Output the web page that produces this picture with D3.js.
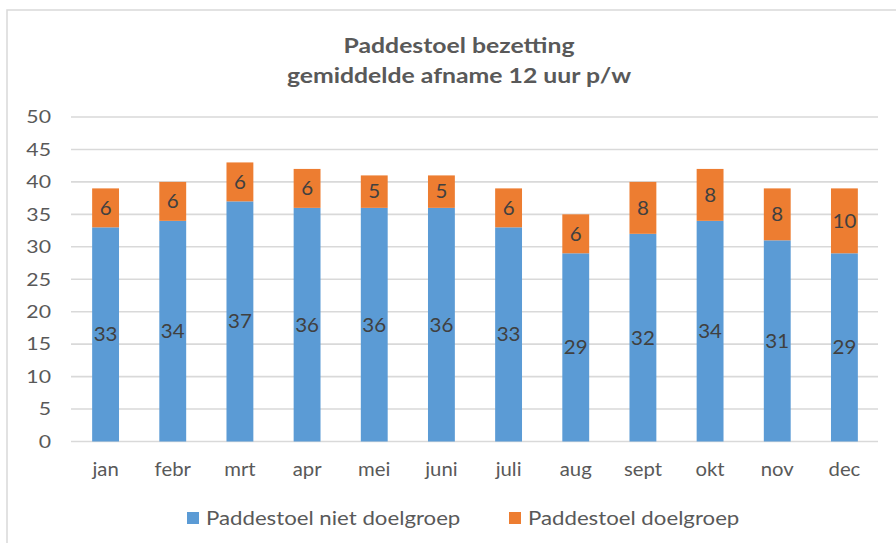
<!DOCTYPE html>
<html><head><meta charset="utf-8">
<script src="https://cdn.jsdelivr.net/npm/d3@7"></script>
<style>body{margin:0;background:#fff}svg{display:block}</style>
</head><body>
<svg id="c" width="896" height="543"></svg>
<script>
const months = ["jan","febr","mrt","apr","mei","juni","juli","aug","sept","okt","nov","dec"];
const nietDoelgroep = [33,34,37,36,36,36,33,29,32,34,31,29];
const doelgroep = [6,6,6,6,5,5,6,6,8,8,8,10];
const seriesNames = ["Paddestoel niet doelgroep","Paddestoel doelgroep"];
const yTicks = [0,5,10,15,20,25,30,35,40,45,50];
const titleLines = ["Paddestoel bezetting","gemiddelde afname 12 uur p/w"];

const colors = ["#5B9BD5","#ED7D31"];
const font = "Lato, 'Open Sans', sans-serif";
const svg = d3.select("#c");

// frame
svg.append("rect").attr("x",7).attr("y",10).attr("width",900).attr("height",560)
  .attr("fill","#fff").attr("stroke","#d9d9d9").attr("stroke-width",1.5);

const x = d3.scaleBand().domain(months).range([72,878]).paddingInner(0.6).paddingOuter(0.3);
const y = d3.scaleLinear().domain([0,50]).range([441.5,117]);

// title
svg.append("g").selectAll("text").data(titleLines).join("text")
  .attr("transform",(d,i)=>`translate(459,${53+i*30}) scale(1.18,1)`)
  .attr("text-anchor","middle")
  .attr("font-family",font).attr("font-weight","bold").attr("font-size",21)
  .attr("fill","#595959").text(d=>d);

// grid
svg.append("g").selectAll("line").data(yTicks).join("line")
  .attr("x1",71).attr("x2",878).attr("y1",d=>y(d)).attr("y2",d=>y(d))
  .attr("stroke","#d9d9d9").attr("stroke-width",1.6);

// y axis labels
const yAxis = svg.append("g").attr("transform","translate(51,0)")
  .call(d3.axisLeft(y).tickValues(yTicks).tickSize(0).tickPadding(0));
yAxis.select(".domain").remove();
yAxis.selectAll("text").attr("font-family",font).attr("font-size",18).attr("fill","#595959")
  .attr("transform","scale(1.18,1)");

// x axis labels
const xAxis = svg.append("g").attr("transform","translate(0,441.5)")
  .call(d3.axisBottom(x).tickSize(0).tickPadding(21));
xAxis.select(".domain").remove();
xAxis.selectAll("text").attr("font-family",font).attr("font-size",19).attr("fill","#595959")
  .attr("transform","scale(1.07,1)");

const data = months.map((m,i)=>({month:m, a:nietDoelgroep[i], b:doelgroep[i]}));
const stack = d3.stack().keys(["a","b"])(data);

const g = svg.append("g");
stack.forEach((s,si)=>{
  g.append("g").selectAll("rect").data(s).join("rect")
    .attr("x",d=>x(d.data.month)).attr("width",x.bandwidth())
    .attr("y",d=>y(d[1])).attr("height",d=>y(d[0])-y(d[1]))
    .attr("fill",colors[si]);
  g.append("g").selectAll("text").data(s).join("text")
    .attr("transform",d=>`translate(${x(d.data.month)+x.bandwidth()/2},${(y(d[0])+y(d[1]))/2}) scale(1.08,1)`)
    .attr("dy","0.36em")
    .attr("text-anchor","middle").attr("font-family",font).attr("font-size",19)
    .attr("fill","#404040").text(d=>d[1]-d[0]);
});

// legend
const legX = [187,509];
const leg = svg.append("g").selectAll("g").data(seriesNames).join("g")
  .attr("transform",(d,i)=>`translate(${legX[i]},518)`);
leg.append("rect").attr("x",0).attr("y",-6).attr("width",12).attr("height",12)
  .attr("fill",(d,i)=>colors[i]);
leg.append("text").attr("transform","translate(19,0) scale(1.17,1)").attr("dy","0.36em")
  .attr("font-family",font).attr("font-size",19).attr("fill","#595959").text(d=>d);
</script>
</body></html>
